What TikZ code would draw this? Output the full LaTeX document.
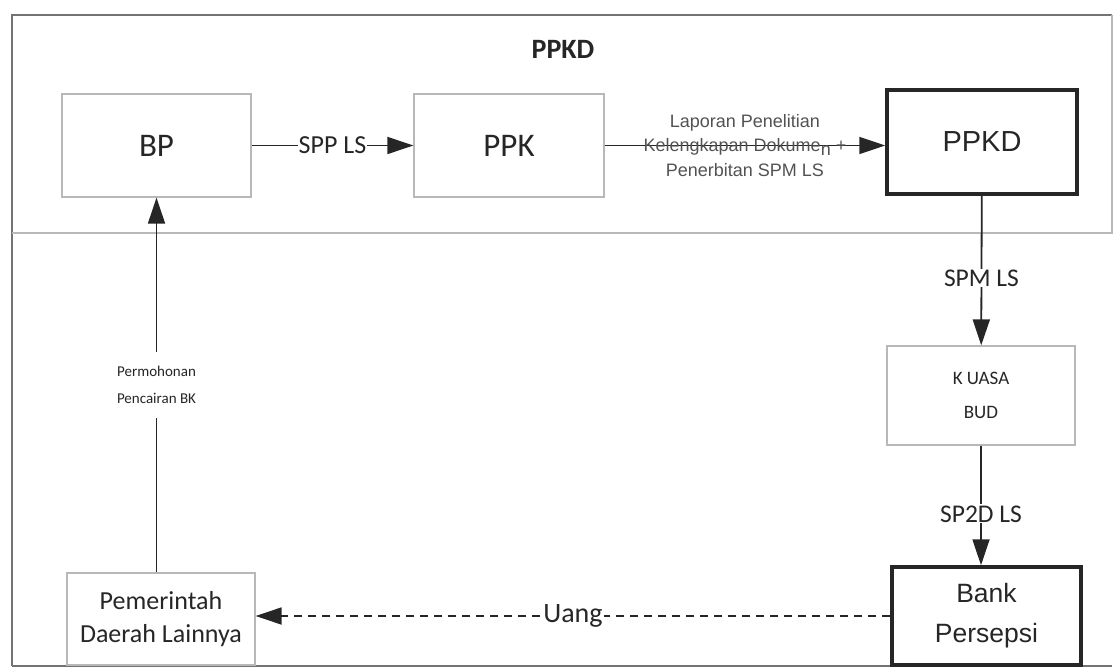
\documentclass[tikz,border=0pt]{standalone}
\usepackage{fontspec}
\setmainfont{Carlito}
\newfontfamily\arialfont{Liberation Sans}
\usetikzlibrary{arrows.meta}
\definecolor{boxgrey}{gray}{0.72}
\definecolor{inkgrey}{gray}{0.15}
\definecolor{framegrey}{gray}{0.45}

\begin{document}
\begin{tikzpicture}[x=1pt, y=-1pt, >={Triangle[length=26pt,width=17pt]},
    unitbox/.style={draw=boxgrey, line width=1.3pt, inner sep=0pt, align=center, text=inkgrey},
    keybox/.style={draw=inkgrey, line width=3.5pt, inner sep=0pt, align=center, text=inkgrey},
    flow/.style={->, draw=inkgrey, line width=1.8pt},
    tag/.style={fill=white, inner sep=1pt, text=inkgrey, font=\fontsize{25.5}{28}\selectfont}]
  \useasboundingbox (0,0) rectangle (1116,668);
  % frame and PPKD region
  \draw[framegrey, line width=2.5pt] (12,666) -- (12,15) -- (1112,15);
  \draw[boxgrey, line width=1.3pt] (1112,15) -- (1112,233) -- (12,233);
  \draw[framegrey, line width=2pt] (12,666) -- (1112,666);
  \node[font=\fontsize{28}{30}\selectfont\bfseries, text=inkgrey] (title) at (563,49) {PPKD};
  % units
  \node[unitbox, minimum width=189pt, minimum height=103pt, font=\fontsize{33}{36}\selectfont] (bp) at (156.5,145.5) {BP};
  \node[unitbox, minimum width=190pt, minimum height=103pt, font=\fontsize{33}{36}\selectfont] (ppk) at (509,145.5) {PPK};
  \node[keybox, minimum width=190pt, minimum height=104pt, font=\arialfont\fontsize{29}{32}\selectfont] (ppkd) at (982,142) {PPKD};
  \node[unitbox, minimum width=188pt, minimum height=99pt, font=\fontsize{19}{34}\selectfont] (kuasa) at (981,395.5) {K UASA\\BUD};
  \node[keybox, minimum width=189pt, minimum height=98pt, font=\arialfont\fontsize{26.5}{40}\selectfont] (bank) at (986.5,616) {Bank\\Persepsi};
  \node[unitbox, minimum width=188pt, minimum height=92pt, font=\fontsize{26}{33}\selectfont] (pemda) at (161,619) {Pemerintah\\Daerah Lainnya};
  % flows
  \draw[flow] (bp) -- node[tag, font=\fontsize{26}{28}\selectfont] {SPP LS} (ppk);
  \draw[flow] (ppk.east) -- node[align=center, text=inkgrey!80, font=\arialfont\fontsize{18}{24.5}\selectfont]
    {Laporan Penelitian\\Kelengkapan Dokume\raisebox{-0.35ex}{n} +\\Penerbitan SPM LS} (ppk.east -| ppkd.west);
  \draw[flow] (ppkd) -- node[tag, pos=0.55] {SPM LS} (kuasa);
  \draw[flow] (kuasa) -- node[tag, pos=0.57] {SP2D LS} (kuasa.south |- bank.north);
  \draw[flow, dash pattern=on 8pt off 6pt] (bank.west) -- node[tag, font=\fontsize{28}{30}\selectfont] {Uang} (bank.west -| pemda.east);
  \draw[flow] (bp.south |- pemda.north) -- node[tag, inner ysep=14pt, align=center, font=\fontsize{15}{27}\selectfont]
    {Permohonan\\Pencairan BK} (bp.south);
\end{tikzpicture}
\end{document}
